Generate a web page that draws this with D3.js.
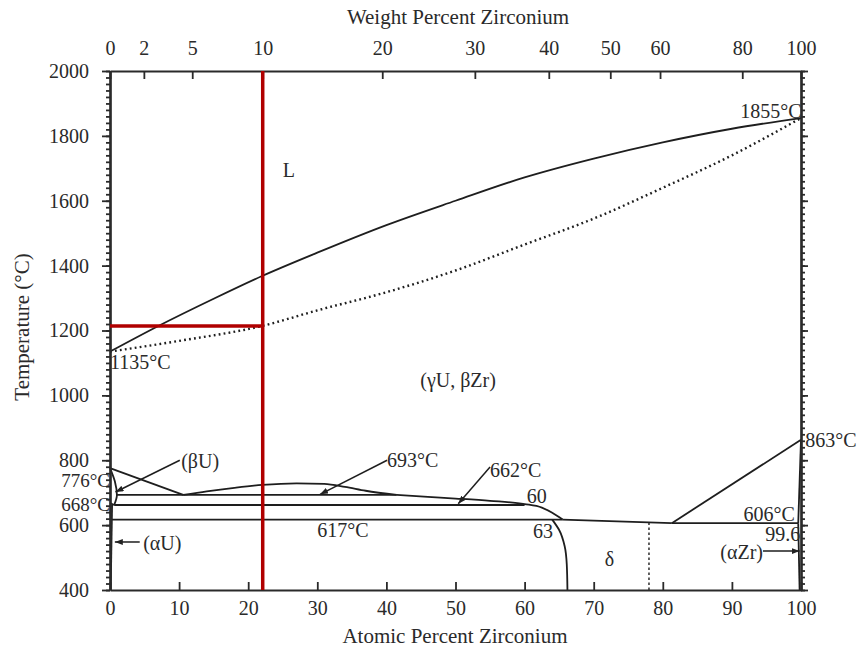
<!doctype html>
<html lang="en">
<head>
<meta charset="utf-8">
<title>U-Zr phase diagram</title>
<script src="https://d3js.org/d3.v7.min.js"></script>
<style>
  body { margin: 0; background: #fff; }
  svg text { font-family: "Liberation Serif", "Times New Roman", serif; fill: #2a2a2a; }
</style>
</head>
<body>
<svg id="chart" width="860" height="653"></svg>
<script>
// x = atomic percent Zr, y = temperature in degC
const atTicks = d3.range(0, 101, 10);
const tempTicks = d3.range(400, 2001, 200);
const tempMinor = d3.range(400, 2001, 20);
// weight percent ticks on top and where they sit in atomic percent
const wtTicks = [0, 2, 5, 10, 20, 30, 40, 50, 60, 80, 100];
const wtTickAt = [0, 4.9, 11.9, 22.1, 39.4, 52.8, 63.5, 72.4, 79.6, 91.5, 100];

// phase boundaries
const liquidus = [[0,1135],[7,1214],[15,1298],[22,1368],[30,1440],[40,1525],[50,1600],[60,1672],[70,1730],[80,1780],[90,1822],[100,1855]];
const solidus = [[0,1135],[10,1168],[22,1214],[30,1262],[40,1318],[50,1385],[60,1465],[70,1545],[80,1640],[90,1740],[100,1855]];
const betaTransus = [[0,776],[10.6,693]];
const gammaDome = [[10.6,693],[14,704],[18,715],[22,724],[27,729],[31,727],[34,718],[37,706],[41.5,693]];
const gamma2 = [[41.5,693],[46,687],[50,682],[55,675],[60,665],[62.5,654],[64,638],[65.5,617]];
const betaUField = [[0,776],[0.7,735],[1.0,693],[0.6,662]];
const betaAlphaU = [[0,668],[0.6,662]];
const alphaUSolvus = [[0.3,662],[0.1,400]];
const iso693 = [[1.0,693],[41.5,693]];
const iso662 = [[0.6,662],[60,662]];
const iso617 = [[0.3,617],[65.5,617]];
const deltaTop = [[65.5,617],[81.3,606]];
const iso606 = [[81.3,606],[99.6,606]];
const betaZrTransus = [[81.3,606],[100,863]];
const alphaZrTop = [[99.6,606],[100,863]];
const alphaZrSolvus = [[99.6,606],[99.8,400]];
const deltaLeft = [[64,617],[65,585],[65.8,535],[66.1,480],[66.2,400]];
const deltaRight = [[78,608],[78,400]];

// red guide: 10 wt% and the temperature it meets the solidus
const redWt = 10;
const redTemp = 1214;

// leader arrows [from, to]
const leaders = [
  [[10.1,800],[0.8,702]],
  [[40.1,800],[30.4,695]],
  [[55.0,779],[50.4,666]],
  [[4.3,548],[0.7,548]],
  [[94.5,520],[99.8,520]]
];

// labels: text, at%, temp, anchor, size
const notes = [
  ["L", 25.0, 1673, "start", 20],
  ["(γU, βZr)", 44.9, 1026, "start", 20],
  ["1855°C", 100.1, 1855, "end", 20],
  ["1135°C", 0, 1081, "start", 20],
  ["776°C", 0, 716, "end", 19],
  ["668°C", 0, 643, "end", 19],
  ["(βU)", 10.3, 776, "start", 20],
  ["693°C", 40.1, 779, "start", 20],
  ["662°C", 55.0, 748, "start", 20],
  ["60", 60.3, 668, "start", 20],
  ["617°C", 30.0, 563, "start", 20],
  ["63", 61.2, 560, "start", 20],
  ["δ", 71.6, 474, "start", 20],
  ["(αU)", 4.8, 523, "start", 20],
  ["(αZr)", 94.5, 496, "end", 20],
  ["606°C", 99.1, 613, "end", 20],
  ["99.6", 99.9, 551, "end", 20],
  ["863°C", 100.6, 841, "start", 20]
];

const svg = d3.select("#chart");
const x = d3.scaleLinear().domain([0, 100]).range([110, 801]);
const y = d3.scaleLinear().domain([400, 2000]).range([590, 71]);

const defs = svg.append("defs");
defs.append("marker")
  .attr("id", "arrow")
  .attr("viewBox", "0 0 8 6")
  .attr("refX", 8).attr("refY", 3)
  .attr("markerWidth", 8).attr("markerHeight", 6)
  .attr("markerUnits", "userSpaceOnUse")
  .attr("orient", "auto")
  .append("path").attr("d", "M0,0L8,3L0,6Z").attr("fill", "#222");

const line = d3.line().x(d => x(d[0])).y(d => y(d[1]));
const smooth = d3.line().x(d => x(d[0])).y(d => y(d[1])).curve(d3.curveMonotoneX);
const smoothY = d3.line().x(d => x(d[0])).y(d => y(d[1])).curve(d3.curveMonotoneY);

const g = svg.append("g").attr("fill", "none").attr("stroke", "#1e1e1e").attr("stroke-width", 1.8);

g.append("path").attr("d", smooth(liquidus));
g.append("path").attr("d", smooth(solidus))
  .attr("stroke-width", 2.4).attr("stroke-dasharray", "1.8,3.2");
g.append("path").attr("d", smooth(gammaDome));
g.append("path").attr("d", smooth(gamma2));
g.append("path").attr("d", smoothY(betaUField));
g.append("path").attr("d", smoothY(deltaLeft));
[betaTransus, betaAlphaU, alphaUSolvus, iso693, iso662, iso617, deltaTop, iso606,
 betaZrTransus, alphaZrTop, alphaZrSolvus].forEach(d => {
  g.append("path").attr("d", line(d));
});
g.append("path").attr("d", line(deltaRight))
  .attr("stroke-width", 1.4).attr("stroke-dasharray", "2.5,2.5");

leaders.forEach(d => {
  g.append("path").attr("d", line(d)).attr("stroke-width", 1.5).attr("marker-end", "url(#arrow)");
});

// axes
const axisStyle = sel => {
  sel.select(".domain").attr("stroke", "#2a2a2a").attr("stroke-width", 2.2);
  sel.selectAll(".tick line").attr("stroke", "#2a2a2a").attr("stroke-width", 1.8);
  sel.selectAll("text").attr("font-size", 20).attr("fill", "#2a2a2a")
    .attr("font-family", "Liberation Serif, Times New Roman, serif");
};

svg.append("g").attr("transform", `translate(0,${y(400)})`)
  .call(d3.axisBottom(x).tickValues(atTicks).tickSize(-8).tickSizeOuter(0).tickPadding(11))
  .call(axisStyle);

svg.append("g").attr("transform", `translate(0,${y(2000)})`)
  .call(d3.axisTop(x).tickValues(wtTickAt).tickSize(-8).tickSizeOuter(0).tickPadding(16)
    .tickFormat((d, i) => wtTicks[i]))
  .call(axisStyle);

svg.append("g").attr("transform", `translate(${x(0)},0)`)
  .call(d3.axisLeft(y).tickValues(tempMinor).tickSize(4).tickSizeOuter(0).tickFormat(""))
  .call(axisStyle);
svg.append("g").attr("transform", `translate(${x(0)},0)`)
  .call(d3.axisLeft(y).tickValues(tempTicks).tickSize(8).tickSizeOuter(0).tickPadding(13).tickFormat(d3.format("d")))
  .call(axisStyle);

svg.append("g").attr("transform", `translate(${x(100)},0)`)
  .call(d3.axisRight(y).tickValues(tempMinor).tickSize(4).tickSizeOuter(0).tickFormat(""))
  .call(axisStyle);
svg.append("g").attr("transform", `translate(${x(100)},0)`)
  .call(d3.axisRight(y).tickValues(tempTicks).tickSize(7).tickSizeOuter(0).tickFormat(""))
  .call(axisStyle);

// red guide lines
const redX = wtTickAt[wtTicks.indexOf(redWt)];
const red = svg.append("g").attr("stroke", "#b00000").attr("stroke-width", 3.5).attr("fill", "none");
red.append("path").attr("d", line([[redX, 400], [redX, 2000]]));
red.append("path").attr("d", line([[0, redTemp], [redX, redTemp]]));

// annotations
svg.append("g").selectAll("text").data(notes).join("text")
  .attr("x", d => x(d[1]))
  .attr("y", d => y(d[2]))
  .attr("text-anchor", d => d[3])
  .attr("font-size", d => d[4])
  .text(d => d[0]);

// titles
svg.append("text").attr("x", 458).attr("y", 24).attr("text-anchor", "middle")
  .attr("font-size", 21).text("Weight Percent Zirconium");
svg.append("text").attr("x", 455).attr("y", 643).attr("text-anchor", "middle")
  .attr("font-size", 21).text("Atomic Percent Zirconium");
svg.append("text").attr("transform", "translate(29,327) rotate(-90)").attr("text-anchor", "middle")
  .attr("font-size", 21).text("Temperature (°C)");
</script>
</body>
</html>
